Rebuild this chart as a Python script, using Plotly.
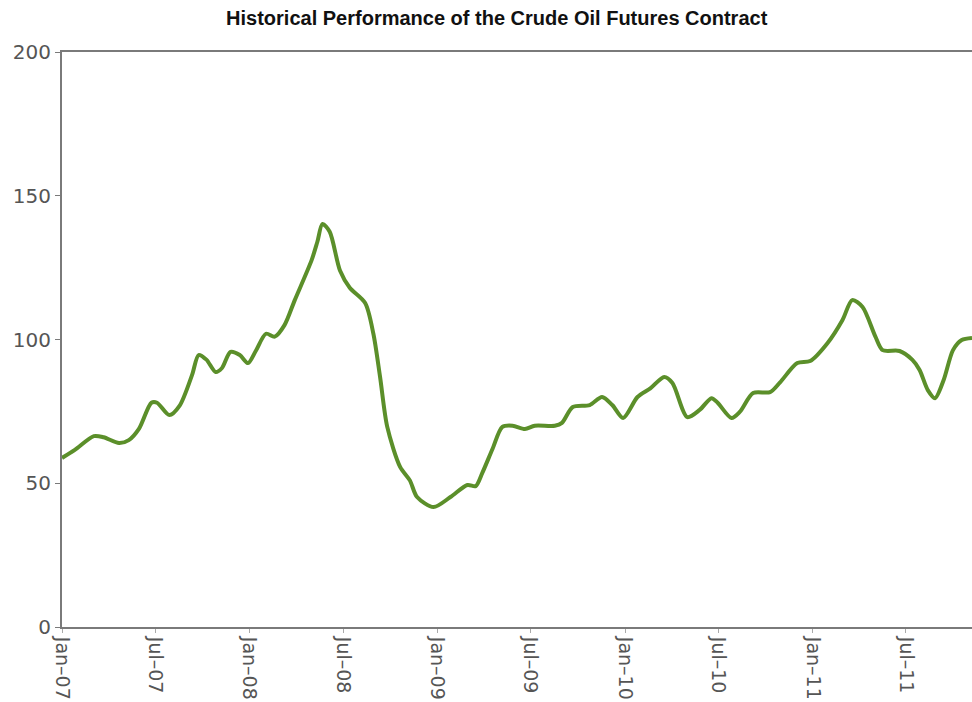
import plotly.graph_objects as go

dates = [
    "2007-01-01", "2007-01-26", "2007-03-04", "2007-03-23", "2007-04-22", "2007-05-11",
    "2007-05-31", "2007-06-24", "2007-07-05", "2007-07-29", "2007-08-18", "2007-09-11",
    "2007-09-24", "2007-10-09", "2007-10-27", "2007-11-08", "2007-11-25", "2007-12-13",
    "2007-12-29", "2008-01-13", "2008-02-02", "2008-02-19", "2008-03-09", "2008-03-29",
    "2008-05-01", "2008-05-12", "2008-05-22", "2008-06-05", "2008-06-25", "2008-07-14",
    "2008-08-13", "2008-08-29", "2008-09-11", "2008-09-25", "2008-10-20", "2008-11-08",
    "2008-11-22", "2008-12-24", "2009-01-26", "2009-02-28", "2009-03-16", "2009-03-29",
    "2009-04-18", "2009-05-07", "2009-05-27", "2009-06-20", "2009-07-09", "2009-08-17",
    "2009-08-31", "2009-09-21", "2009-10-24", "2009-11-17", "2009-12-07", "2009-12-28",
    "2010-01-25", "2010-02-19", "2010-03-18", "2010-04-03", "2010-05-02", "2010-05-26",
    "2010-06-18", "2010-06-30", "2010-07-27", "2010-08-12", "2010-09-07", "2010-10-10",
    "2010-10-29", "2010-12-02", "2010-12-27", "2011-01-30", "2011-02-28", "2011-03-19",
    "2011-04-08", "2011-05-03", "2011-05-17", "2011-06-19", "2011-07-14", "2011-07-28",
    "2011-08-13", "2011-08-27", "2011-09-13", "2011-10-01", "2011-10-18", "2011-11-07",
]
prices = [
    58.8, 61.6, 66.4, 66.0, 64.0, 65.0,
    69.0, 78.0, 78.0, 73.7, 77.0, 87.6,
    94.6, 93.0, 88.7, 90.0, 95.7, 94.6,
    91.8, 96.0, 102.0, 101.0, 105.0, 113.7,
    127.7, 134.0, 140.2, 137.5, 124.0, 118.0,
    112.7, 102.0, 87.0, 69.6, 55.7, 51.0,
    45.2, 41.7, 45.2, 49.4, 49.0, 53.6,
    62.0, 69.6, 70.0, 68.9, 70.0, 70.0,
    71.0, 76.5, 77.2, 80.0, 77.2, 72.7,
    80.0, 83.0, 87.0, 84.9, 73.0, 75.5,
    79.6, 78.0, 72.7, 74.8, 81.4, 81.7,
    85.0, 91.8, 92.5, 98.8, 106.8, 113.7,
    111.3, 101.0, 96.3, 96.0, 92.9, 89.4,
    82.4, 79.6, 86.0, 96.3, 99.8, 100.5,
]

tick_dates = ["2007-01-01", "2007-07-01", "2008-01-01", "2008-07-01", "2009-01-01",
              "2009-07-01", "2010-01-01", "2010-07-01", "2011-01-01", "2011-07-01"]
tick_labels = ["Jan–07", "Jul–07", "Jan–08", "Jul–08", "Jan–09",
               "Jul–09", "Jan–10", "Jul–10", "Jan–11", "Jul–11"]
y_ticks = [0, 50, 100, 150, 200]

fig = go.Figure()
fig.add_trace(go.Scatter(
    x=dates, y=prices, mode="lines",
    line=dict(color="#5b8f2a", width=4, shape="spline", smoothing=0.8),
    hoverinfo="x+y", showlegend=False,
))

axis_color = "#7a7a7a"
fig.update_layout(
    width=972, height=702,
    margin=dict(l=62, r=0, t=52, b=75),
    paper_bgcolor="white", plot_bgcolor="white",
    title=dict(
        text="<b>Historical Performance of the Crude Oil Futures Contract</b>",
        x=0.511, xanchor="center", y=0.974, yanchor="middle",
        font=dict(family="Liberation Sans, Arial, sans-serif", size=20, color="#111111"),
    ),
    xaxis=dict(
        type="date", range=["2007-01-01", "2011-11-07"],
        tickvals=tick_dates, ticktext=tick_labels, tickangle=90,
        showgrid=False, zeroline=False,
        showline=True, linecolor=axis_color, linewidth=2, mirror=True,
        ticks="outside", ticklen=4, tickcolor="#aaaaaa", tickwidth=1,
        tickfont=dict(family="DejaVu Sans, sans-serif", size=19, color="#555555"),
    ),
    yaxis=dict(
        range=[0, 200], tickvals=y_ticks,
        showgrid=False, zeroline=False,
        showline=True, linecolor=axis_color, linewidth=2,
        ticks="outside", ticklen=5, tickcolor=axis_color, tickwidth=1,
        tickfont=dict(family="DejaVu Sans, sans-serif", size=20, color="#555555"),
    ),
)

fig.write_html(
    "out.html",
    config={"displayModeBar": False},
    post_script="document.body.style.margin='0';document.body.style.overflow='hidden';",
)
